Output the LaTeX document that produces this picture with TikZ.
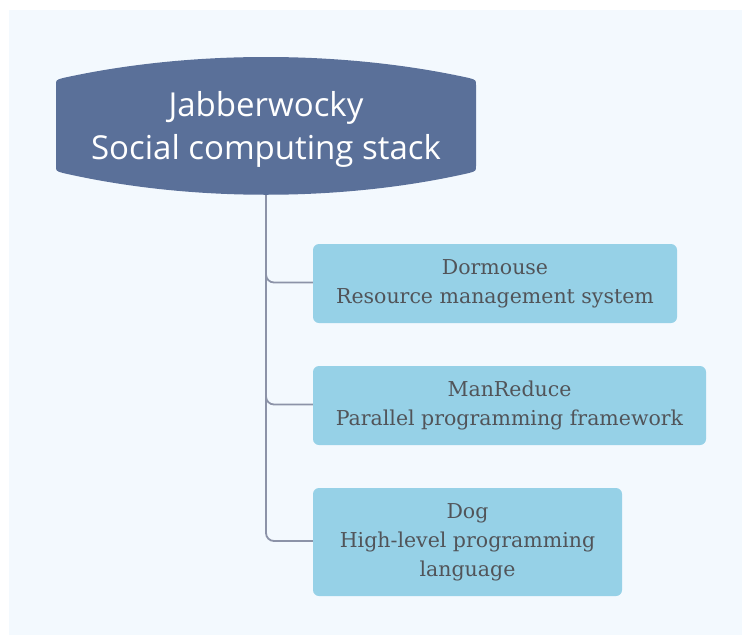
\documentclass[tikz,border=0pt]{standalone}
\usepackage{fontspec}
\setmainfont{DejaVu Serif}
\newfontfamily\rootfont{Open Sans}
\definecolor{bgc}{HTML}{F3F9FE}
\definecolor{rootc}{HTML}{5A7099}
\definecolor{childc}{HTML}{96D1E7}
\definecolor{linec}{HTML}{8C93A8}
\definecolor{textc}{HTML}{515459}
\begin{document}
\begin{tikzpicture}[x=1pt,y=-1pt,
  childbox/.style={fill=childc, draw=none, rounded corners=6pt, inner sep=0pt, align=center,
    text=textc, font=\fontsize{20.5}{29}\selectfont},
  conn/.style={draw=linec, line width=1.8pt, rounded corners=8pt}]
\useasboundingbox (0,0) rectangle (742,635);
\fill[white] (0,0) rectangle (742,635);
\fill[bgc] (9,10) rectangle (742,635);
% root shape
\fill[rootc] (56,85) -- (56,166)
  .. controls (56,171) .. (63,173)
  .. controls (190,202) and (342,202) .. (469,173)
  .. controls (476,171) .. (476,166)
  -- (476,85)
  .. controls (476,80) .. (469,78)
  .. controls (342,50) and (190,50) .. (63,78)
  .. controls (56,80) .. (56,85) -- cycle;
\node[text=white, align=center, font=\rootfont\fontsize{33}{43}\selectfont] (root) at (266,129) {Jabberwocky\\Social computing stack};
\coordinate (rootb) at (266,195);
% children
\node[childbox, minimum width=364pt, minimum height=79pt] (c1) at (495,283.5) {Dormouse\\Resource management system};
\node[childbox, minimum width=393pt, minimum height=79pt] (c2) at (509.5,405.5) {ManReduce\\Parallel programming framework};
\node[childbox, minimum width=309pt, minimum height=108pt] (c3) at (467.5,542) {Dog\\High-level programming\\language};
% connectors
\draw[conn] (rootb) |- ([yshift=1pt]c1.west);
\draw[conn] (rootb) |- ([yshift=1pt]c2.west);
\draw[conn] (rootb) |- ([yshift=1pt]c3.west);
\end{tikzpicture}
\end{document}
